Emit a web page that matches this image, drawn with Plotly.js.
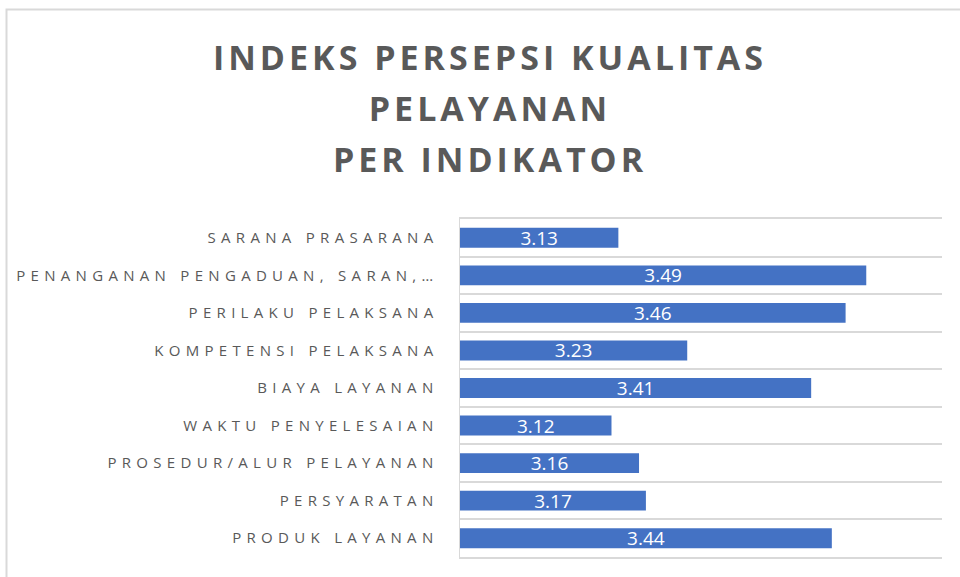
<!DOCTYPE html>
<html>
<head>
<meta charset="utf-8">
<script src="https://cdn.plot.ly/plotly-3.0.1.min.js"></script>
<style>
  html, body { margin: 0; padding: 0; background: #ffffff; }
  #chart { width: 960px; height: 577px; }
  #chart .gtitle { letter-spacing: 4px; }
  #chart .ytick text { letter-spacing: 5.3px; }
  #chart .bartext text { letter-spacing: 0.6px; }
</style>
</head>
<body>
<div id="chart"></div>
<script>
// Categories, listed top to bottom as in the chart
const categories = [
  "SARANA PRASARANA",
  "PENANGANAN PENGADUAN, SARAN,…",
  "PERILAKU PELAKSANA",
  "KOMPETENSI PELAKSANA",
  "BIAYA LAYANAN",
  "WAKTU PENYELESAIAN",
  "PROSEDUR/ALUR PELAYANAN",
  "PERSYARATAN",
  "PRODUK LAYANAN"
];
// Index values per indicator
const values = [3.13, 3.49, 3.46, 3.23, 3.41, 3.12, 3.16, 3.17, 3.44];
// Value axis range
const axisMin = 2.9;
const axisMax = 3.6;

const trace = {
  type: "bar",
  orientation: "h",
  y: categories,
  base: axisMin,
  x: values.map(v => +(v - axisMin).toFixed(6)),
  text: values.map(v => v.toFixed(2)),
  textposition: "inside",
  insidetextanchor: "middle",
  textangle: 0,
  constraintext: "none",
  textfont: { family: "Open Sans, sans-serif", size: 19, color: "#ffffff" },
  marker: { color: "#4472C4", line: { width: 0 } },
  hoverinfo: "y+text"
};

const layout = {
  width: 960,
  height: 577,
  paper_bgcolor: "#ffffff",
  plot_bgcolor: "#ffffff",
  margin: { l: 460, r: 18, t: 219, b: 20, pad: 0 },
  bargap: 0.47,
  showlegend: false,
  title: {
    text: "INDEKS PERSEPSI KUALITAS<br>PELAYANAN<br>PER INDIKATOR",
    font: { family: "Open Sans, sans-serif", size: 34, color: "#595959", weight: 700 },
    x: 490 / 960,
    xanchor: "center",
    xref: "container",
    yref: "container",
    y: 1 - 70 / 577,
    yanchor: "top"
  },
  xaxis: {
    range: [axisMin, axisMax],
    showticklabels: false,
    showgrid: false,
    zeroline: false,
    showline: true,
    mirror: true,
    linecolor: "#D9D9D9",
    linewidth: 2,
    ticks: ""
  },
  yaxis: {
    type: "category",
    range: [8.5, -0.5],
    showline: true,
    linecolor: "#D9D9D9",
    linewidth: 1.5,
    showgrid: true,
    gridcolor: "#D9D9D9",
    gridwidth: 2,
    tickson: "boundaries",
    ticks: "",
    ticklabelstandoff: 17,
    tickfont: { family: "Open Sans, sans-serif", size: 15, color: "#595959" }
  },
  shapes: [
    {
      type: "rect",
      xref: "paper", yref: "paper",
      x0: (6.5 - 460) / 482, x1: 1.2,
      y0: -0.2, y1: 1 + (219 - 9.5) / 338,
      line: { color: "#D9D9D9", width: 2 },
      fillcolor: "rgba(0,0,0,0)",
      layer: "above"
    }
  ]
};

Plotly.newPlot("chart", [trace], layout, { displayModeBar: false, staticPlot: true }).then(() => {
  document.querySelectorAll("#chart .gtitle tspan.line").forEach((t, i) => {
    t.setAttribute("dy", (i * 1.5) + "em");
  });
});
</script>
</body>
</html>
